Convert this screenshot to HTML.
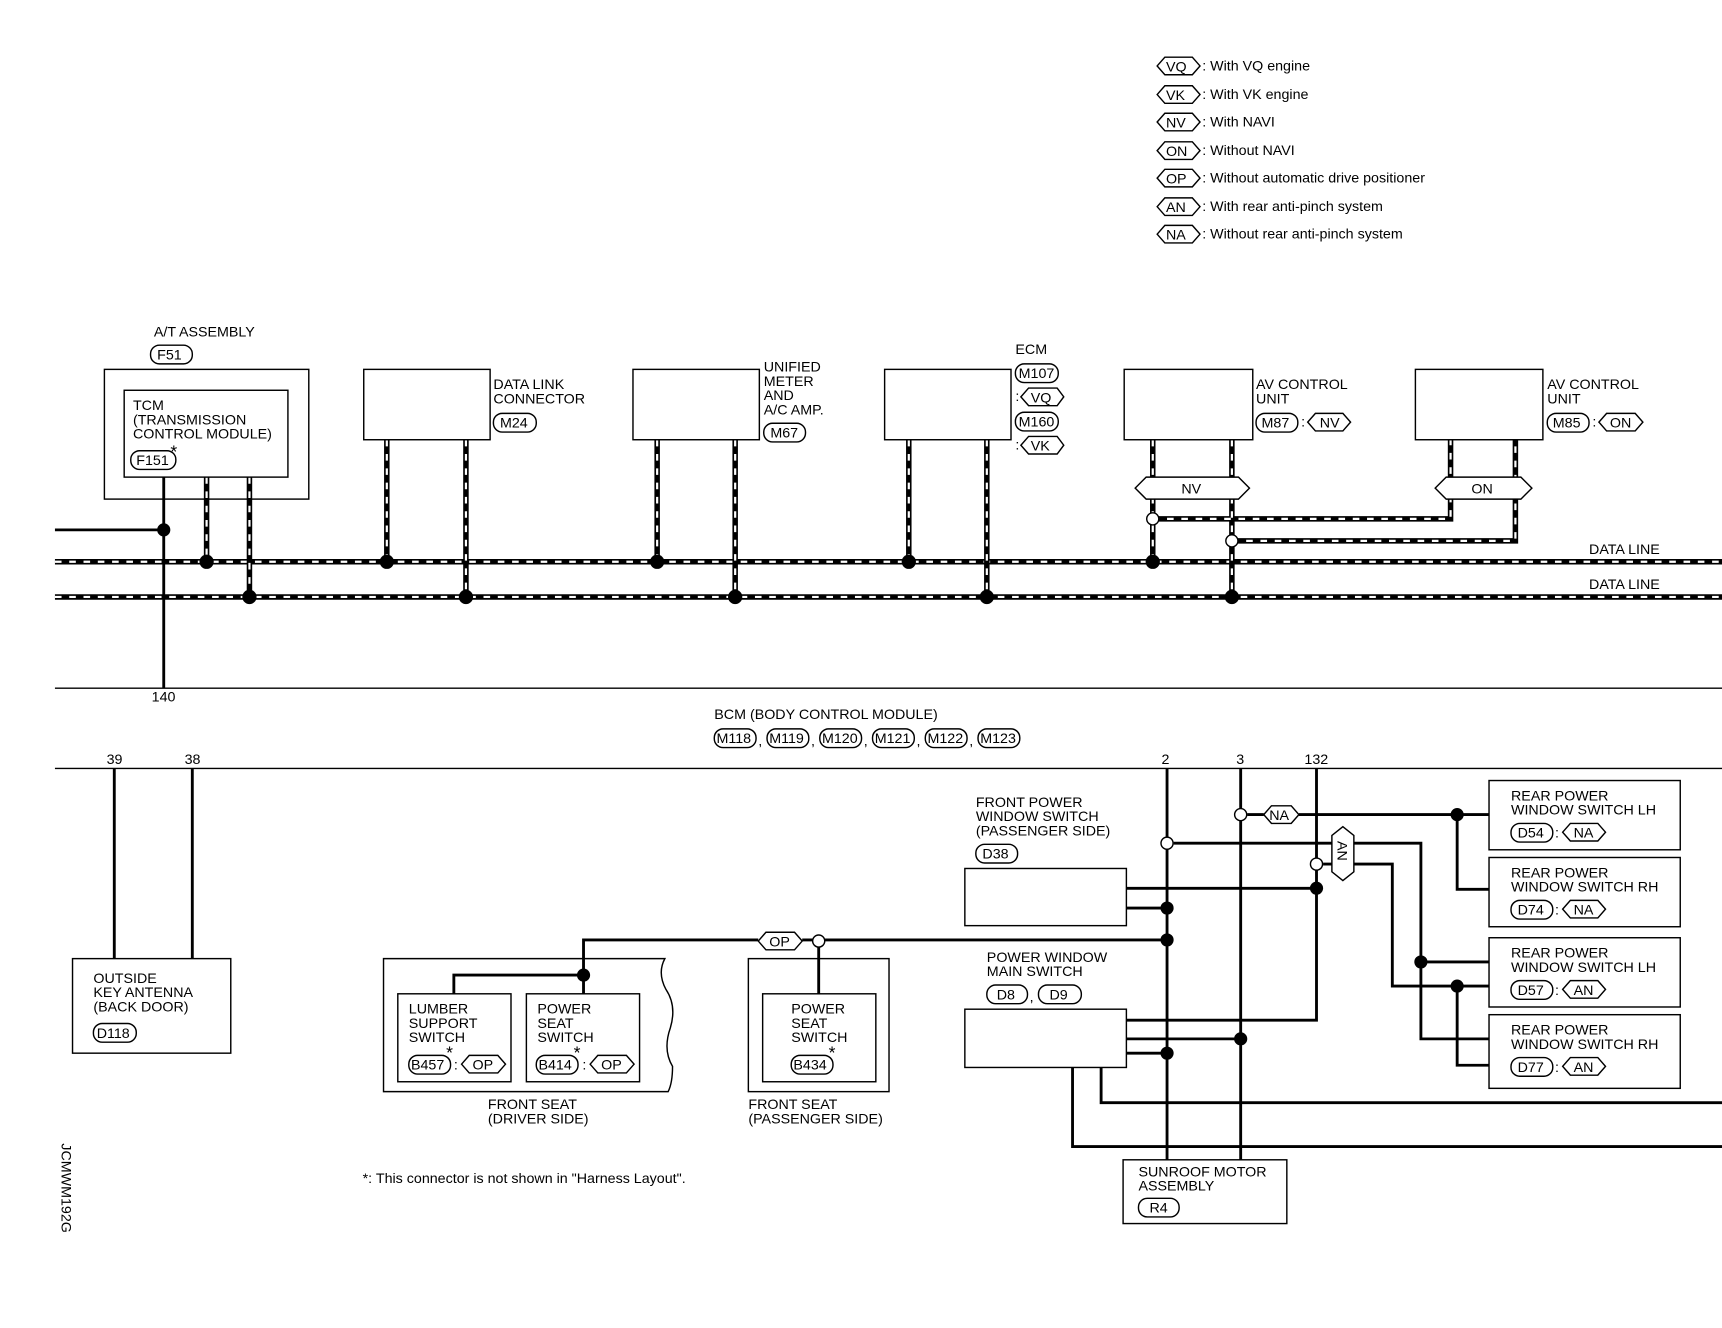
<!DOCTYPE html>
<html><head><meta charset="utf-8"><style>
html,body{margin:0;padding:0;background:#fff}
svg{display:block}
text{font-family:"Liberation Sans",sans-serif;font-size:13px;fill:#000}
.w{stroke:#000;stroke-width:2.6;fill:none}
.t{stroke:#000;stroke-width:1.3;fill:none}
.b{stroke:#000;stroke-width:1.3;fill:#fff}
.dk{stroke:#000;stroke-width:5;fill:none}
.dw{stroke:#fff;stroke-width:2;fill:none;stroke-dasharray:6 7}
.o{stroke:#000;stroke-width:1.3;fill:#fff}
</style></head><body>
<svg width="1722" height="1328" viewBox="0 0 1567 1208" preserveAspectRatio="none" xmlns="http://www.w3.org/2000/svg">
<rect width="1567" height="1208" fill="#fff"/>
<g>
<polygon class="o" points="1053,60 1060,52 1085,52 1092,60 1085,68 1060,68"/><text x="1061" y="65">VQ</text><text x="1094" y="64">: With VQ engine</text>
<polygon class="o" points="1053,86 1060,78 1085,78 1092,86 1085,94 1060,94"/><text x="1061" y="91">VK</text><text x="1094" y="90">: With VK engine</text>
<polygon class="o" points="1053,111 1060,103 1085,103 1092,111 1085,119 1060,119"/><text x="1061" y="116">NV</text><text x="1094" y="115">: With NAVI</text>
<polygon class="o" points="1053,137 1060,129 1085,129 1092,137 1085,145 1060,145"/><text x="1061" y="142">ON</text><text x="1094" y="141">: Without NAVI</text>
<polygon class="o" points="1053,162 1060,154 1085,154 1092,162 1085,170 1060,170"/><text x="1061" y="167">OP</text><text x="1094" y="166">: Without automatic drive positioner</text>
<polygon class="o" points="1053,188 1060,180 1085,180 1092,188 1085,196 1060,196"/><text x="1061" y="193">AN</text><text x="1094" y="192">: With rear anti-pinch system</text>
<polygon class="o" points="1053,213 1060,205 1085,205 1092,213 1085,221 1060,221"/><text x="1061" y="218">NA</text><text x="1094" y="217">: Without rear anti-pinch system</text>
</g>

<line class="dk" x1="50" y1="511" x2="1567" y2="511"/><line class="dw" x1="50" y1="511" x2="1567" y2="511"/>
<line class="dk" x1="50" y1="543" x2="1567" y2="543"/><line class="dw" x1="50" y1="543" x2="1567" y2="543"/>
<text x="1446" y="504">DATA LINE</text><text x="1446" y="536">DATA LINE</text>

<g>
<path class="dk" d="M188 434V511M227 434V543M352 400V511M424 400V543M598 400V511M669 400V543M827 400V511M898 400V543M1049 400V511M1121 400V543M1049 472H1320V400M1121 492H1379V400"/>
<path class="dw" d="M188 434V511M227 434V543M352 400V511M424 400V543M598 400V511M669 400V543M827 400V511M898 400V543M1049 400V511M1121 400V543M1049 472H1320V400M1121 492H1379V400"/>
</g>
<polygon class="o" points="1033,444 1043,434 1127,434 1137,444 1127,454 1043,454"/><text x="1075" y="449">NV</text>
<polygon class="o" points="1306,444 1316,434 1384,434 1394,444 1384,454 1316,454"/><text x="1339" y="449">ON</text>
<circle cx="1049" cy="472" r="5.5" class="o"/><circle cx="1121" cy="492" r="5.5" class="o"/>

<text x="140" y="306">A/T ASSEMBLY</text>
<rect class="o" x="137" y="314" width="38" height="17" rx="8"/><text x="143" y="327">F51</text>
<rect class="t" x="95" y="336" width="186" height="118"/>
<rect class="t" x="113" y="355" width="149" height="79"/>
<text x="121" y="373">TCM</text><text x="121" y="386">(TRANSMISSION</text><text x="121" y="399"> CONTROL MODULE)</text>
<rect class="o" x="119" y="410" width="41" height="17" rx="8"/><text x="124" y="423">F151</text><text x="155" y="416" style="font-size:16px">*</text>
<path class="w" d="M149 434V626M50 482H149"/>

<rect class="t" x="331" y="336" width="115" height="64"/>
<text x="449" y="354">DATA LINK</text><text x="449" y="367">CONNECTOR</text>
<rect class="o" x="449" y="376" width="39" height="17" rx="8"/><text x="455" y="389">M24</text>
<rect class="t" x="576" y="336" width="115" height="64"/>
<text x="695" y="338">UNIFIED</text><text x="695" y="351">METER</text><text x="695" y="364">AND</text><text x="695" y="377">A/C AMP.</text>
<rect class="o" x="695" y="385" width="38" height="17" rx="8"/><text x="701" y="398">M67</text>
<rect class="t" x="805" y="336" width="115" height="64"/>
<text x="924" y="322">ECM</text>
<rect class="o" x="924" y="331" width="39" height="17" rx="8"/><text x="927" y="344">M107</text>
<text x="924" y="365">:</text><polygon class="o" points="929,361 936,353 962,353 968,361 962,369 936,369"/><text x="938" y="366">VQ</text>
<rect class="o" x="924" y="375" width="39" height="17" rx="8"/><text x="927" y="388">M160</text>
<text x="924" y="409">:</text><polygon class="o" points="929,405 936,397 962,397 968,405 962,413 936,413"/><text x="938" y="410">VK</text>
<rect class="t" x="1023" y="336" width="117" height="64"/>
<text x="1143" y="354">AV CONTROL</text><text x="1143" y="367">UNIT</text>
<rect class="o" x="1143" y="376" width="38" height="17" rx="8"/><text x="1148" y="389">M87</text>
<text x="1184" y="388">:</text><polygon class="o" points="1190,384 1197,376 1222,376 1229,384 1222,392 1197,392"/><text x="1201" y="389">NV</text>
<rect class="t" x="1288" y="336" width="116" height="64"/>
<text x="1408" y="354">AV CONTROL</text><text x="1408" y="367">UNIT</text>
<rect class="o" x="1408" y="376" width="38" height="17" rx="8"/><text x="1413" y="389">M85</text>
<text x="1449" y="388">:</text><polygon class="o" points="1455,384 1462,376 1488,376 1495,384 1488,392 1462,392"/><text x="1465" y="389">ON</text>

<g fill="#000">
<circle cx="149" cy="482" r="6"/>
<circle cx="188" cy="511" r="6.5"/><circle cx="352" cy="511" r="6.5"/><circle cx="598" cy="511" r="6.5"/><circle cx="827" cy="511" r="6.5"/><circle cx="1049" cy="511" r="6.5"/>
<circle cx="227" cy="543" r="6.5"/><circle cx="424" cy="543" r="6.5"/><circle cx="669" cy="543" r="6.5"/><circle cx="898" cy="543" r="6.5"/><circle cx="1121" cy="543" r="6.5"/>
</g>

<line class="t" x1="50" y1="626" x2="1567" y2="626"/>
<line class="t" x1="50" y1="699" x2="1567" y2="699"/>
<text x="138" y="638">140</text>
<text x="650" y="654">BCM (BODY CONTROL MODULE)</text>
<g>
<rect class="o" x="650" y="663" width="38" height="17" rx="8"/><text x="652" y="676">M118</text><text x="690" y="678">,</text>
<rect class="o" x="698" y="663" width="38" height="17" rx="8"/><text x="700" y="676">M119</text><text x="738" y="678">,</text>
<rect class="o" x="746" y="663" width="38" height="17" rx="8"/><text x="748" y="676">M120</text><text x="786" y="678">,</text>
<rect class="o" x="794" y="663" width="38" height="17" rx="8"/><text x="796" y="676">M121</text><text x="834" y="678">,</text>
<rect class="o" x="842" y="663" width="38" height="17" rx="8"/><text x="844" y="676">M122</text><text x="882" y="678">,</text>
<rect class="o" x="890" y="663" width="38" height="17" rx="8"/><text x="892" y="676">M123</text>
</g>
<text x="97" y="695">39</text><text x="168" y="695">38</text><text x="1057" y="695">2</text><text x="1125" y="695">3</text><text x="1187" y="695">132</text>

<path class="w" d="M104 699V872M175 699V872"/>
<rect class="t" x="66" y="872" width="144" height="86"/>
<text x="85" y="894">OUTSIDE</text><text x="85" y="907">KEY ANTENNA</text><text x="85" y="920">(BACK DOOR)</text>
<rect class="o" x="85" y="931" width="39" height="17" rx="8"/><text x="88" y="944">D118</text>

<path class="t" d="M349 872H605Q598 885 606 900Q616 915 610 935Q603 955 612 970Q612 985 608 993H349Z"/>
<rect class="t" x="362" y="904" width="103" height="80"/>
<rect class="t" x="479" y="904" width="103" height="80"/>
<text x="372" y="922">LUMBER</text><text x="372" y="935">SUPPORT</text><text x="372" y="948">SWITCH</text>
<rect class="o" x="372" y="960" width="38" height="17" rx="8"/><text x="374" y="973">B457</text><text x="406" y="963" style="font-size:16px">*</text>
<text x="413" y="973">:</text><polygon class="o" points="420,968 427,960 453,960 460,968 453,976 427,976"/><text x="430" y="973">OP</text>
<text x="489" y="922">POWER</text><text x="489" y="935">SEAT</text><text x="489" y="948">SWITCH</text>
<rect class="o" x="488" y="960" width="38" height="17" rx="8"/><text x="490" y="973">B414</text><text x="522" y="963" style="font-size:16px">*</text>
<text x="530" y="973">:</text><polygon class="o" points="537,968 544,960 570,960 577,968 570,976 544,976"/><text x="547" y="973">OP</text>
<text x="444" y="1009">FRONT SEAT</text><text x="444" y="1022">(DRIVER SIDE)</text>
<rect class="t" x="681" y="872" width="128" height="121"/>
<rect class="t" x="694" y="904" width="103" height="80"/>
<text x="720" y="922">POWER</text><text x="720" y="935">SEAT</text><text x="720" y="948">SWITCH</text>
<rect class="o" x="720" y="960" width="38" height="17" rx="8"/><text x="722" y="973">B434</text><text x="754" y="963" style="font-size:16px">*</text>
<text x="681" y="1009">FRONT SEAT</text><text x="681" y="1022">(PASSENGER SIDE)</text>
<path class="w" d="M531 904V855H690M730 855H1062M413 904V887H531M745 855V904"/>
<polygon class="o" points="690,856 697,848 723,848 730,856 723,864 697,864"/><text x="700" y="861">OP</text>
<circle cx="745" cy="856" r="5.5" class="o"/>
<circle cx="531" cy="887" r="6" fill="#000"/>

<text x="330" y="1076">*: This connector is not shown in "Harness Layout".</text>
<text transform="translate(56,1040) rotate(90)" x="0" y="0">JCMWM192G</text>

<path class="w" d="M1062 699V1055M1129 699V1055M1198 699V928H1025M1025 808H1198M1025 826H1062M1025 945H1129M1025 958H1062M1002 971V1003H1567M976 971V1043H1567"/>
<path class="w" d="M1135 741H1150M1182 741H1355M1326 741V809H1355M1068 767H1293V945H1355M1293 875H1355M1204 786H1267V897H1355M1326 897V969H1355"/>
<polygon class="o" points="1150,741 1157,733 1175,733 1182,741 1175,749 1157,749"/><text x="1155" y="746">NA</text>
<polygon class="o" points="1222,752 1232,760 1232,793 1222,801 1212,793 1212,760"/><text transform="translate(1217,765) rotate(90)" x="0" y="0">AN</text>
<circle cx="1129" cy="741" r="5.5" class="o"/><circle cx="1062" cy="767" r="5.5" class="o"/><circle cx="1198" cy="786" r="5.5" class="o"/>
<g fill="#000">
<circle cx="1326" cy="741" r="6"/><circle cx="1198" cy="808" r="6"/><circle cx="1062" cy="826" r="6"/><circle cx="1062" cy="855" r="6"/>
<circle cx="1293" cy="875" r="6"/><circle cx="1326" cy="897" r="6"/><circle cx="1129" cy="945" r="6"/><circle cx="1062" cy="958" r="6"/>
</g>
<text x="888" y="734">FRONT POWER</text><text x="888" y="747">WINDOW SWITCH</text><text x="888" y="760">(PASSENGER SIDE)</text>
<rect class="o" x="888" y="768" width="38" height="17" rx="8"/><text x="894" y="781">D38</text>
<rect class="b" x="878" y="790" width="147" height="52"/>
<text x="898" y="875">POWER WINDOW</text><text x="898" y="888">MAIN SWITCH</text>
<rect class="o" x="898" y="896" width="37" height="17" rx="8"/><text x="907" y="909">D8</text><text x="937" y="911">,</text>
<rect class="o" x="945" y="896" width="39" height="17" rx="8"/><text x="955" y="909">D9</text>
<rect class="b" x="878" y="918" width="147" height="53"/>
<rect class="b" x="1022" y="1055" width="149" height="58"/>
<text x="1036" y="1070">SUNROOF MOTOR</text><text x="1036" y="1083">ASSEMBLY</text>
<rect class="o" x="1036" y="1090" width="37" height="17" rx="8"/><text x="1046" y="1103">R4</text>

<rect class="t" x="1355" y="710" width="174" height="63"/>
<text x="1375" y="728">REAR POWER</text><text x="1375" y="741">WINDOW SWITCH LH</text>
<rect class="o" x="1375" y="749" width="38" height="17" rx="8"/><text x="1381" y="762">D54</text><text x="1415" y="762">:</text>
<polygon class="o" points="1422,757 1429,749 1454,749 1461,757 1454,765 1429,765"/><text x="1432" y="762">NA</text>
<rect class="t" x="1355" y="780" width="174" height="63"/>
<text x="1375" y="798">REAR POWER</text><text x="1375" y="811">WINDOW SWITCH RH</text>
<rect class="o" x="1375" y="819" width="38" height="17" rx="8"/><text x="1381" y="832">D74</text><text x="1415" y="832">:</text>
<polygon class="o" points="1422,827 1429,819 1454,819 1461,827 1454,835 1429,835"/><text x="1432" y="832">NA</text>
<rect class="t" x="1355" y="853" width="174" height="63"/>
<text x="1375" y="871">REAR POWER</text><text x="1375" y="884">WINDOW SWITCH LH</text>
<rect class="o" x="1375" y="892" width="38" height="17" rx="8"/><text x="1381" y="905">D57</text><text x="1415" y="905">:</text>
<polygon class="o" points="1422,900 1429,892 1454,892 1461,900 1454,908 1429,908"/><text x="1432" y="905">AN</text>
<rect class="t" x="1355" y="923" width="174" height="67"/>
<text x="1375" y="941">REAR POWER</text><text x="1375" y="954">WINDOW SWITCH RH</text>
<rect class="o" x="1375" y="962" width="38" height="17" rx="8"/><text x="1381" y="975">D77</text><text x="1415" y="975">:</text>
<polygon class="o" points="1422,970 1429,962 1454,962 1461,970 1454,978 1429,978"/><text x="1432" y="975">AN</text>
</svg>
</body></html>
